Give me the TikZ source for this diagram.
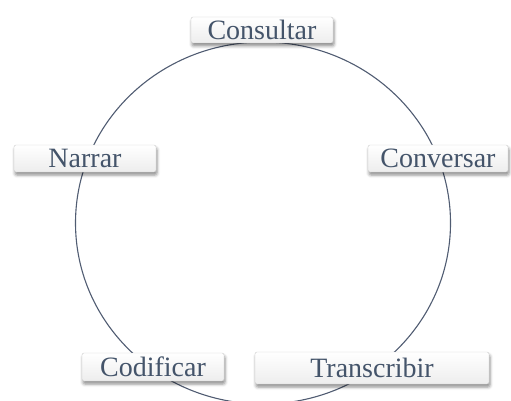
\documentclass[tikz,border=0pt]{standalone}
\usepackage{fontspec}
\setmainfont{Liberation Serif}
\usetikzlibrary{shadows.blur}

\definecolor{slate}{RGB}{68,84,106}
\definecolor{ringcol}{RGB}{80,92,114}

\begin{document}
\begin{tikzpicture}[x=1pt, y=-1pt,
      stage/.style={
         draw=gray!40,
         top color=white,
         bottom color=gray!14,
         rounded corners=2pt,
         inner sep=0pt,
         text=slate,
         font=\fontsize{28}{30}\selectfont,
         blur shadow={shadow xshift=1pt, shadow yshift=-3pt,
                      shadow blur radius=3pt, shadow opacity=45}},
      ring/.style={draw=ringcol, line width=1.1pt}
      ]
      \useasboundingbox (0,0) rectangle (511,401);

      \coordinate (hub) at (263,223);
      \draw[ring] (hub) ellipse [x radius=187.5pt, y radius=181pt];

    \foreach \name/\x/\y/\w/\h/\txt in {% name/x/y/width/height/text
        consultar/262/30/142/26/Consultar,
        narrar/85/158.5/142/27/Narrar,
        conversar/438/158.5/140/27/Conversar,
        codificar/153/367/142/28/Codificar,
        transcribir/372/368/234/32/Transcribir}
       \node[stage, minimum width=\w pt, minimum height=\h pt] (\name) at (\x,\y) {\txt};

    \end{tikzpicture}
\end{document}
